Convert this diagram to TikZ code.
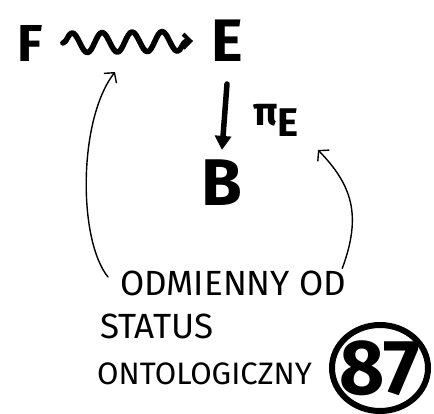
\documentclass[tikz,border=0pt]{standalone}
\usepackage{fontspec}
\setmainfont{Fira Sans}
\usetikzlibrary{arrows.meta,decorations.pathmorphing,shapes.geometric}
\begin{document}
\begin{tikzpicture}[x=1pt,y=-1pt,
  bigletter/.style={font=\fontsize{60}{62}\selectfont\bfseries, inner sep=0pt},
  hand/.style={font=\fontsize{35}{37}\selectfont, inner sep=0pt, anchor=west},
  thinline/.style={line width=1.4pt, line cap=round, line join=round},
  thickline/.style={line width=5.5pt, line cap=round, line join=round}]
\useasboundingbox[fill=white] (0,0) rectangle (434,414);
% objects
\node[bigletter, font=\fontsize{52}{54}\selectfont\bfseries] (F) at (30,43) {F};
\node[bigletter] (E) at (227,41) {E};
\node[bigletter, font=\fontsize{66}{68}\selectfont\bfseries] (B) at (222,183) {B};
\node[inner sep=0pt, font=\fontsize{40}{40}\selectfont\bfseries] (pi) at (276,120) {π\raisebox{-11pt}{E}};
% texts
\node[hand] (odm) at (120,283) {ODMIENNY OD};
\node[hand] (stat) at (100,326) {STATUS};
\node[hand, font=\fontsize{31}{33}\selectfont] (onto) at (97,374) {ONTOLOGICZNY};
\node[draw, ellipse, line width=6pt, minimum width=96pt, minimum height=86pt, inner sep=0pt] (circ) at (380,368) {};
\node[inner sep=0pt, font=\fontsize{78}{80}\selectfont\bfseries] (num) at (circ.center) {87};
% connectors
\draw[thickline, decorate, decoration={snake, segment length=30pt, amplitude=10pt, post length=4pt},
  -{Straight Barb[length=7pt,width=14pt,line width=4pt]}]
  ([xshift=20pt]F.east) -- ([xshift=-18pt]E.west);
\draw[thickline, -{Triangle[length=14pt,width=16pt]}]
  ([yshift=-22pt]E.south) -- ([yshift=10pt]B.north);
\coordinate (ltip) at (115,72);
\coordinate (rtip) at (318,150);
\coordinate (lstart) at ([xshift=-12pt,yshift=6pt]odm.west);
\coordinate (rstart) at ([xshift=-4pt,yshift=2pt]odm.north east);
\draw[thinline, -{Straight Barb[length=7pt,width=16pt]}]
  (lstart) .. controls (78,240) and (78,120) .. (ltip);
\draw[thinline, -{Straight Barb[length=7pt,width=16pt]}]
  (rstart) .. controls (362,215) and (352,185) .. (rtip);
\end{tikzpicture}
\end{document}
